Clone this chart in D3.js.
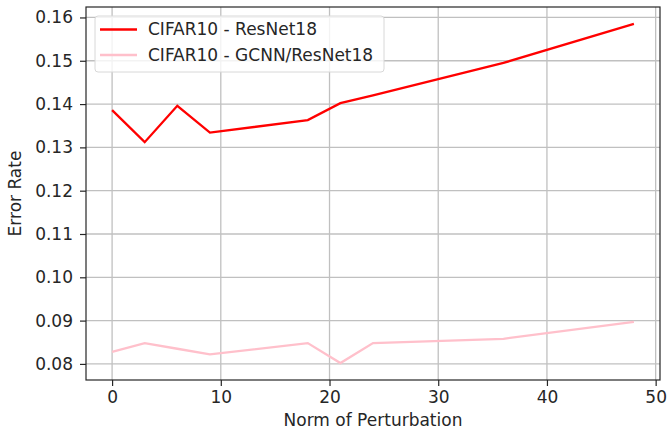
<!DOCTYPE html>
<html>
<head>
<meta charset="utf-8">
<script src="https://cdn.jsdelivr.net/npm/d3@7"></script>
<style>
  body { margin: 0; background: #fff; }
  text { font-family: "DejaVu Sans", sans-serif; fill: #262626; }
</style>
</head>
<body>
<div class="chart"></div>
<script>
// Data
var perturbation = [0, 3, 6, 9, 18, 21, 24, 36, 48];
var resnetError = [0.1386, 0.1312, 0.1396, 0.1334, 0.1363, 0.1402, 0.1420, 0.1495, 0.1585];
var gcnnError = [0.0828, 0.0848, 0.0835, 0.0822, 0.0848, 0.0802, 0.0848, 0.0858, 0.0897];
var xTicks = [0, 10, 20, 30, 40, 50];
var yTicks = [0.08, 0.09, 0.10, 0.11, 0.12, 0.13, 0.14, 0.15, 0.16];
var seriesNames = ["CIFAR10 - ResNet18", "CIFAR10 - GCNN/ResNet18"];
var seriesColors = ["#ff0000", "#ffc0cb"];

var svgWidth = 668, svgHeight = 429;
var margin = { top: 7, right: 8, bottom: 49, left: 86 };
var width = svgWidth - margin.left - margin.right;
var height = svgHeight - margin.top - margin.bottom;
var fontSize = "17px";

var svg = d3.select(".chart").append("svg")
    .attr("width", svgWidth)
    .attr("height", svgHeight);

var chart = svg.append("g")
    .attr("transform", "translate(" + margin.left + "," + margin.top + ")");

// matplotlib style 5% margins
var xMin = d3.min(perturbation), xMax = d3.max(perturbation);
var xPad = (xMax - xMin) * 0.05;
var allY = resnetError.concat(gcnnError);
var yMin = d3.min(allY), yMax = d3.max(allY);
var yPad = (yMax - yMin) * 0.05;

var xScale = d3.scaleLinear().domain([xMin - xPad, xMax + xPad]).range([0, width]);
var yScale = d3.scaleLinear().domain([yMin - yPad, yMax + yPad]).range([height, 0]);

// grid
chart.append("g").selectAll("line").data(xTicks).enter().append("line")
    .attr("x1", function(d) { return xScale(d); })
    .attr("x2", function(d) { return xScale(d); })
    .attr("y1", 0).attr("y2", height)
    .attr("stroke", "#c0c0c0").attr("stroke-width", 1.3);
chart.append("g").selectAll("line").data(yTicks).enter().append("line")
    .attr("y1", function(d) { return yScale(d); })
    .attr("y2", function(d) { return yScale(d); })
    .attr("x1", 0).attr("x2", width)
    .attr("stroke", "#c0c0c0").attr("stroke-width", 1.3);

// lines
var line = d3.line()
    .x(function(d) { return xScale(d[0]); })
    .y(function(d) { return yScale(d[1]); });

[resnetError, gcnnError].forEach(function(vals, i) {
    chart.append("path")
        .datum(d3.zip(perturbation, vals))
        .attr("fill", "none")
        .attr("stroke", seriesColors[i])
        .attr("stroke-width", 2.3)
        .attr("d", line);
});

// axes
var bottomAxis = d3.axisBottom(xScale).tickValues(xTicks).tickSize(6).tickPadding(4.5)
    .tickFormat(d3.format("d"));
var leftAxis = d3.axisLeft(yScale).tickValues(yTicks).tickSize(6).tickPadding(7)
    .tickFormat(d3.format(".2f"));

var xg = chart.append("g").attr("transform", "translate(0," + height + ")").call(bottomAxis);
var yg = chart.append("g").call(leftAxis);
[xg, yg].forEach(function(g) {
    g.select(".domain").remove();
    g.selectAll(".tick line").attr("stroke", "#262626").attr("stroke-width", 1.2);
    g.selectAll(".tick text").style("font-size", fontSize).attr("fill", "#262626")
        .style("font-family", "DejaVu Sans, sans-serif");
});

// frame
chart.append("rect")
    .attr("x", 0).attr("y", 0).attr("width", width).attr("height", height)
    .attr("fill", "none").attr("stroke", "#262626").attr("stroke-width", 1.2);

// axis labels
chart.append("text")
    .attr("x", width / 2).attr("y", height + 45.5)
    .attr("text-anchor", "middle")
    .style("font-size", fontSize)
    .text("Norm of Perturbation");

chart.append("text")
    .attr("transform", "rotate(-90)")
    .attr("x", -height / 2).attr("y", -65)
    .attr("text-anchor", "middle")
    .style("font-size", fontSize)
    .text("Error Rate");

// legend
var legend = chart.append("g").attr("transform", "translate(9,9)");
legend.append("rect")
    .attr("width", 289).attr("height", 56).attr("rx", 3)
    .attr("fill", "#fff").attr("fill-opacity", 0.8)
    .attr("stroke", "#d8d8d8").attr("stroke-width", 1);
seriesNames.forEach(function(name, i) {
    var ly = 13.5 + i * 25.5;
    legend.append("line")
        .attr("x1", 5).attr("x2", 42).attr("y1", ly).attr("y2", ly)
        .attr("stroke", seriesColors[i]).attr("stroke-width", 2.3);
    legend.append("text")
        .attr("x", 53).attr("y", ly).attr("dy", "0.35em")
        .style("font-size", fontSize)
        .text(name);
});
</script>
</body>
</html>
